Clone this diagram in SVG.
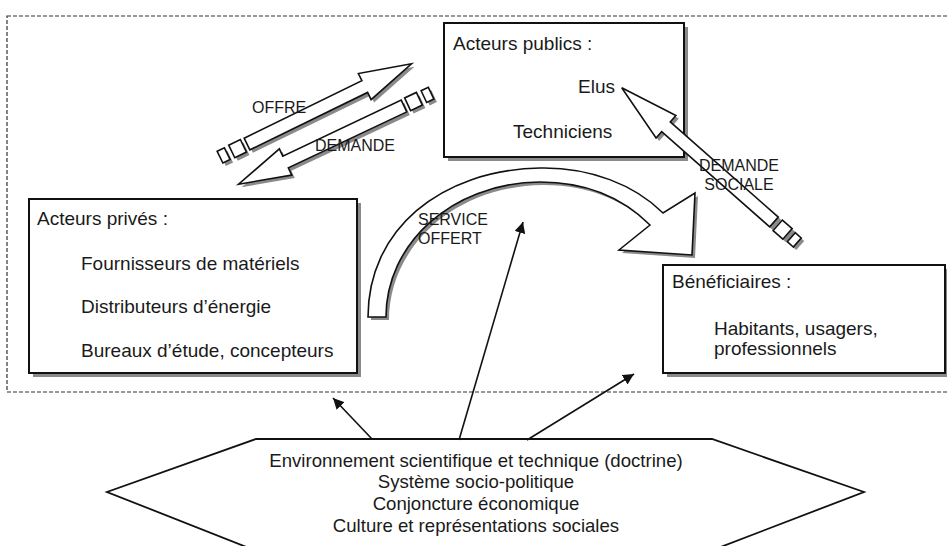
<svg xmlns="http://www.w3.org/2000/svg" xmlns:xlink="http://www.w3.org/1999/xlink" width="947" height="546" viewBox="0 0 947 546">
<style>
text{font-family:"Liberation Sans",Arial,sans-serif;fill:#1a1a1a}
.t{font-size:19px}
.l{font-size:16px}
.h{font-size:18.6px}
.box{fill:#fff;stroke:#111;stroke-width:2}
.shd{fill:#8a8a8a;stroke:none}
.blk{fill:#fff;stroke:#111;stroke-width:1.6;stroke-linejoin:miter}
.con{stroke:#111;stroke-width:1.6;fill:none}
</style>
<defs>
<path id="arrA" d="M0,-6.5 L131,-6.5 L131,-14.5 L183,0 L131,14.5 L131,6.5 L0,6.5 Z M-17,-7 L-4,-7 L-4,7 L-17,7 Z M-30,-6.5 L-22,-6.5 L-22,6.5 L-30,6.5 Z"/>
<path id="arrB" d="M0,-6.5 L144,-6.5 L144,-15 L203,0 L144,15 L144,6.5 L0,6.5 Z M-18,-7 L-5,-7 L-5,7 L-18,7 Z M-31,-6 L-23,-6 L-23,6 L-31,6 Z"/>
<path id="curve" d="M368,317 C368,230 440,170 540,168 C590,167 635,185 663,213 L695,193 L692,255 L619,250 L650,225 C625,200 590,182 540,182 C450,183 386,245 386,317 Z"/>
<marker id="ah" viewBox="0 0 10 10" refX="10" refY="5" markerWidth="11" markerHeight="11" markerUnits="userSpaceOnUse" orient="auto">
<path d="M0,0 L10,5 L0,10 Z" fill="#111"/>
</marker>
</defs>
<rect width="947" height="546" fill="#fff"/>
<g id="frame">
<rect x="7" y="16" width="960" height="376" fill="none" stroke="#333" stroke-width="1.2" stroke-dasharray="4 2"/>
</g>
<g id="acteurs-publics">
<rect class="shd" x="448" y="27" width="240" height="134"/>
<rect class="box" x="444" y="23" width="240" height="134"/>
<text class="t" x="453" y="50">Acteurs publics :</text>
<text class="t" x="578" y="93">Elus</text>
<text class="t" x="513" y="138">Techniciens</text>
</g>
<g id="acteurs-prives">
<rect class="shd" x="33" y="203" width="328" height="174"/>
<rect class="box" x="29" y="199" width="328" height="174"/>
<text class="t" x="37" y="225">Acteurs privés :</text>
<text class="t" x="81" y="270">Fournisseurs de matériels</text>
<text class="t" x="81" y="313">Distributeurs d’énergie</text>
<text class="t" x="81" y="357">Bureaux d’étude, concepteurs</text>
</g>
<g id="beneficiaires">
<rect class="shd" x="667" y="269" width="282" height="108"/>
<rect class="box" x="663" y="265" width="282" height="108"/>
<text class="t" x="672" y="288">Bénéficiaires :</text>
<text class="t" x="714" y="335">Habitants, usagers,</text>
<text class="t" x="714" y="355">professionnels</text>
</g>
<g id="environnement">
<polygon points="256,439 712,439 864,492 718,548 249,548 107,492" fill="#fff" stroke="#111" stroke-width="1.8"/>
<text class="h" x="476" y="467" text-anchor="middle">Environnement scientifique et technique (doctrine)</text>
<text class="h" x="476" y="488" text-anchor="middle">Système socio-politique</text>
<text class="h" x="476" y="510" text-anchor="middle">Conjoncture économique</text>
<text class="h" x="476" y="532" text-anchor="middle">Culture et représentations sociales</text>
</g>
<g id="connectors">
<g id="offre">
<use xlink:href="#arrA" class="shd" transform="translate(250,147) rotate(-26)"/>
<use xlink:href="#arrA" class="blk" transform="translate(247,144) rotate(-26)"/>
<text class="l" x="252" y="113">OFFRE</text>
</g>
<g id="demande">
<use xlink:href="#arrA" class="shd" transform="translate(407,109) rotate(154.7)"/>
<use xlink:href="#arrA" class="blk" transform="translate(404,106) rotate(154.7)"/>
<text class="l" x="315" y="151">DEMANDE</text>
</g>
<g id="demande-sociale">
<use xlink:href="#arrB" class="shd" transform="translate(777,225) rotate(-138.6)"/>
<use xlink:href="#arrB" class="blk" transform="translate(774,222) rotate(-138.6)"/>
<text class="l" x="739" y="171" text-anchor="middle">DEMANDE</text>
<text class="l" x="739" y="190" text-anchor="middle">SOCIALE</text>
</g>
<g id="service-offert">
<use xlink:href="#curve" class="shd" transform="translate(3,3)"/>
<use xlink:href="#curve" class="blk"/>
<text class="l" x="418" y="225">SERVICE</text>
<text class="l" x="418" y="244">OFFERT</text>
</g>
<line class="con" x1="372" y1="439" x2="333" y2="398" marker-end="url(#ah)"/>
<line class="con" x1="459" y1="440" x2="523" y2="222" marker-end="url(#ah)"/>
<line class="con" x1="527" y1="440" x2="634" y2="374" marker-end="url(#ah)"/>
</g>
</svg>
